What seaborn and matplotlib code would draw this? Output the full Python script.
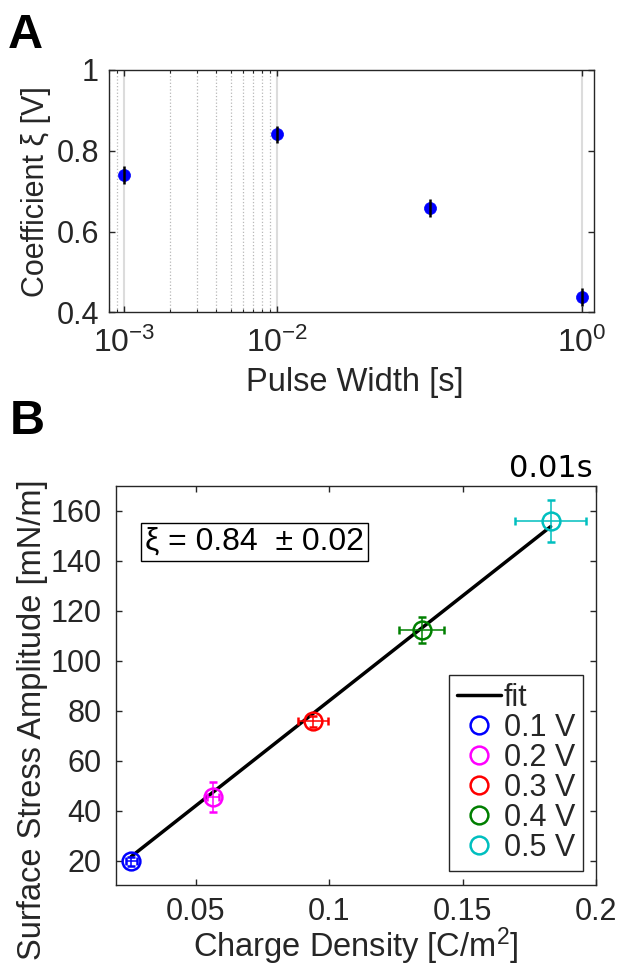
import numpy as np
import pandas as pd
import matplotlib
matplotlib.use("Agg")
import matplotlib.pyplot as plt
from matplotlib.lines import Line2D
from matplotlib.ticker import FixedLocator, FixedFormatter, NullFormatter
import seaborn as sns

# ---------------- Panel A data ----------------
pulse_width = [1e-3, 1e-2, 1e-1, 1e0]
xi_coef = [0.739, 0.841, 0.659, 0.437]
xi_err = [0.022, 0.021, 0.022, 0.022]
a_xticks = [1e-3, 1e-2, 1e0]
a_xticklabels = ["$10^{-3}$", "$10^{-2}$", "$10^{0}$"]
a_minor = [8e-4, 9e-4, 2e-3, 3e-3, 4e-3, 5e-3, 6e-3, 7e-3, 8e-3, 9e-3]
a_yticks = [0.4, 0.6, 0.8, 1.0]
a_yticklabels = ["0.4", "0.6", "0.8", "1"]

# ---------------- Panel B data ----------------
voltages = ["0.1 V", "0.2 V", "0.3 V", "0.4 V", "0.5 V"]
charge_density = [0.0257, 0.0565, 0.0938, 0.1346, 0.1830]
charge_err = [0.0020, 0.0022, 0.0056, 0.0085, 0.0133]
stress = [19.8, 45.4, 75.8, 112.4, 156.0]
stress_err = [1.8, 6.0, 2.2, 5.3, 8.3]
colors = ["#0000ff", "#ff00ff", "#ff0000", "#008000", "#00bfbf"]
fit_xi = 0.84
fit_xi_err = 0.02
b_xticks = [0.05, 0.1, 0.15, 0.2]
b_xticklabels = ["0.05", "0.1", "0.15", "0.2"]
b_yticks = [20, 40, 60, 80, 100, 120, 140, 160]

sns.set_theme(style="ticks")
plt.rcParams["font.family"] = ["Liberation Sans", "DejaVu Sans"]
plt.rcParams["mathtext.fontset"] = "custom"
plt.rcParams["mathtext.rm"] = "Liberation Sans"
plt.rcParams["mathtext.it"] = "Liberation Sans:italic"
plt.rcParams["mathtext.default"] = "regular"

AX_COL = "#262626"
TICK_FS = 22
LABEL_FS = 23.5

fig = plt.figure(figsize=(6.21, 9.65), dpi=100)
axA = fig.add_axes([0.1760, 0.6764, 0.7810, 0.2511])
axB = fig.add_axes([0.1868, 0.0824, 0.7729, 0.4140])

for ax in (axA, axB):
    for sp in ax.spines.values():
        sp.set_color(AX_COL)
        sp.set_linewidth(1.0)
        sp.set_visible(True)

# ---------------- Panel A ----------------
dfA = pd.DataFrame({"pw": pulse_width, "xi": xi_coef, "err": xi_err})
axA.set_xscale("log")
sns.scatterplot(data=dfA, x="pw", y="xi", ax=axA, color="#0000ff",
                edgecolor="#0000ff", s=75, linewidth=0.5, zorder=3, legend=False)
axA.errorbar(dfA["pw"], dfA["xi"], yerr=dfA["err"], fmt="none",
             ecolor="black", elinewidth=1.8, capsize=0, zorder=4)
axA.set_xlim(8e-4, 1.2)
axA.set_ylim(0.4, 1.0)
axA.xaxis.set_major_locator(FixedLocator(a_xticks))
axA.xaxis.set_major_formatter(FixedFormatter(a_xticklabels))
axA.xaxis.set_minor_locator(FixedLocator(a_minor))
axA.xaxis.set_minor_formatter(NullFormatter())
axA.yaxis.set_major_locator(FixedLocator(a_yticks))
axA.yaxis.set_major_formatter(FixedFormatter(a_yticklabels))
axA.grid(True, which="major", axis="x", color="#dcdcdc", lw=1.5, ls="-")
axA.grid(True, which="minor", axis="x", color="#b8b8b8", lw=0.9, ls=":")
axA.tick_params(which="major", direction="in", top=True, right=True, length=4.5,
                width=1.0, color=AX_COL, labelcolor=AX_COL, labelsize=TICK_FS)
axA.tick_params(which="minor", direction="in", top=True, right=True, length=2.5,
                width=0.8, color=AX_COL)
axA.tick_params(axis="x", which="major", pad=11, labelsize=23)
axA.tick_params(axis="y", which="major", pad=7.5)
axA.set_xlabel("Pulse Width [s]", fontsize=LABEL_FS, color=AX_COL)
axA.set_ylabel("Coefficient ξ [V]", fontsize=22, color=AX_COL)
axA.xaxis.set_label_coords(0.507, -0.225)
axA.yaxis.set_label_coords(-0.12, 0.5)

# ---------------- Panel B ----------------
dfB = pd.DataFrame({"q": charge_density, "qerr": charge_err,
                    "s": stress, "serr": stress_err, "V": voltages})
fit_x = [min(charge_density), max(charge_density)]
fit_y = [fit_xi * 1000 * v for v in fit_x]
dfFit = pd.DataFrame({"q": fit_x, "s": fit_y})
sns.lineplot(data=dfFit, x="q", y="s", ax=axB, color="black", lw=2.5, zorder=2)

for i, row in dfB.iterrows():
    axB.errorbar(row["q"], row["s"], xerr=row["qerr"], yerr=row["serr"],
                 fmt="o", ms=12.8, mfc="none", mec=colors[i], mew=1.8,
                 ecolor=colors[i], elinewidth=1.1, capsize=2.9, capthick=1.1,
                 zorder=3)

axB.set_xlim(0.02, 0.2)
axB.set_ylim(10, 170)
axB.xaxis.set_major_locator(FixedLocator(b_xticks))
axB.xaxis.set_major_formatter(FixedFormatter(b_xticklabels))
axB.yaxis.set_major_locator(FixedLocator(b_yticks))
axB.tick_params(which="major", direction="in", top=True, right=True, length=4.5,
                width=1.0, color=AX_COL, labelcolor=AX_COL, labelsize=TICK_FS)
axB.tick_params(axis="x", pad=8)
axB.tick_params(axis="y", pad=10.5)
axB.set_xlabel("Charge Density [C/m$^2$]", fontsize=LABEL_FS, color=AX_COL)
axB.set_ylabel("Surface Stress Amplitude [mN/m]", fontsize=LABEL_FS, color=AX_COL)
axB.xaxis.set_label_coords(0.5, -0.1)
axB.yaxis.set_label_coords(-0.142, 0.416)

axB.text(0.994, 1.0225, "0.01s", transform=axB.transAxes, ha="right",
         va="baseline", fontsize=22, family="DejaVu Sans", color="black")

axB.text(0.2885, 0.86, f"ξ = {fit_xi:.2f}  ± {fit_xi_err:.2f}", transform=axB.transAxes,
         ha="center", va="center", fontsize=23, color="black",
         bbox=dict(boxstyle="square,pad=0.12", fc="white", ec="black", lw=1.0))

handles = [Line2D([0], [0], color="black", lw=2.5, label="fit")]
for v, c in zip(voltages, colors):
    handles.append(Line2D([0], [0], ls="none", marker="o", ms=12.8, mfc="none",
                          mec=c, mew=1.8, label=v))
leg = axB.legend(handles=handles, loc="lower right", bbox_to_anchor=(0.973, 0.037),
                 borderaxespad=0, fontsize=22, frameon=True, fancybox=False,
                 framealpha=1, edgecolor=AX_COL, handlelength=1.45,
                 handletextpad=0.1, labelspacing=0.0, borderpad=0.25)
leg.get_frame().set_linewidth(1.0)

# panel letters
fig.text(0.0129, 1 - 48 / 965, "A", fontsize=35, fontweight="bold",
         ha="left", va="baseline", color="black")
fig.text(0.016, 1 - 434 / 965, "B", fontsize=35, fontweight="bold",
         ha="left", va="baseline", color="black")

fig.savefig("out.png", dpi=100)
